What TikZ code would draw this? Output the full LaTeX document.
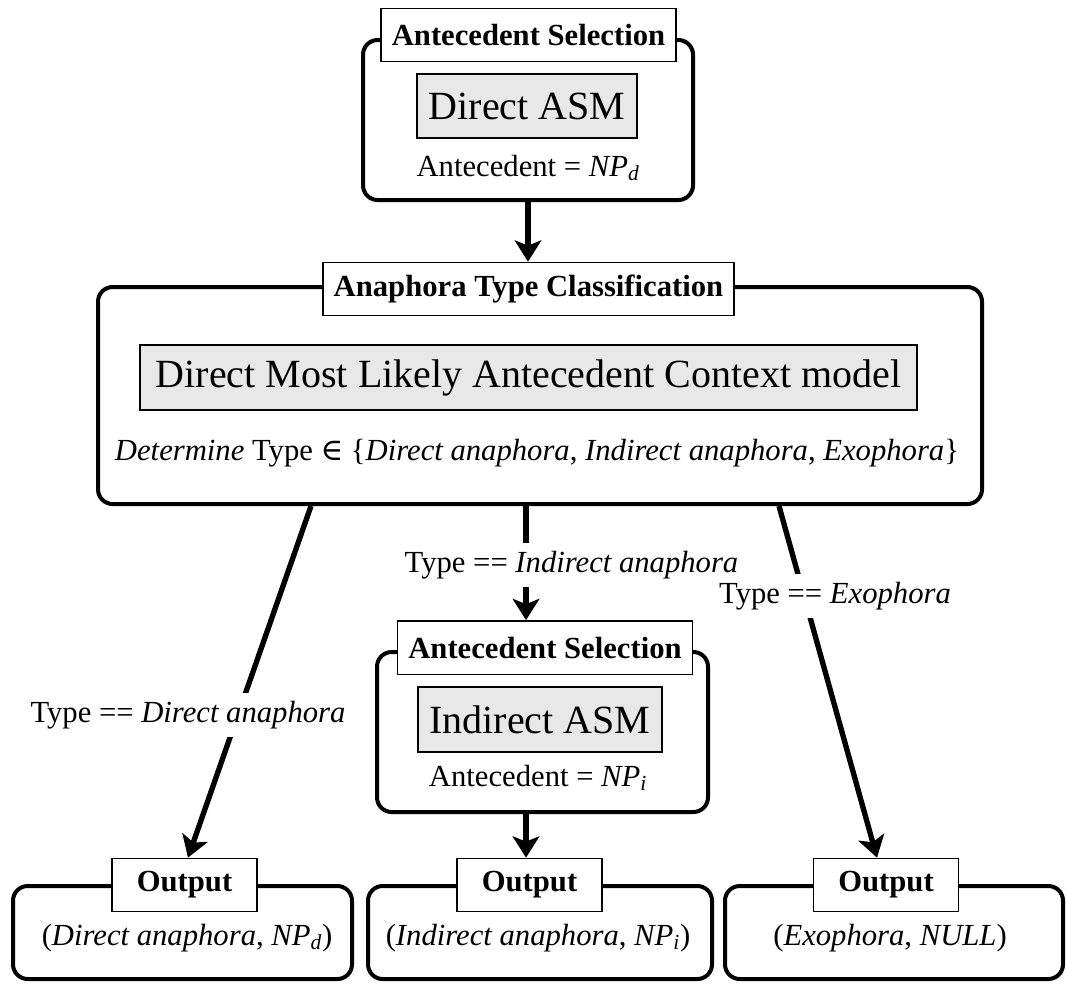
\documentclass[tikz,border=0pt]{standalone}
\usepackage{fontspec}
\setmainfont{Liberation Serif}
\newfontfamily\symbfont{DejaVu Serif}
\usetikzlibrary{arrows.meta}

\begin{document}
\begin{tikzpicture}[x=0.75pt,y=-0.75pt,
  stage/.style={draw,line width=3pt,rounded corners=11pt},
  title/.style={draw,line width=1pt,fill=white,font=\fontsize{23}{27}\selectfont\bfseries,inner xsep=8pt,minimum height=40pt},
  model/.style={draw,line width=1pt,fill=black!9,font=\fontsize{30}{36}\selectfont,minimum height=48.75pt},
  txt/.style={font=\fontsize{23}{27}\selectfont,anchor=base},
  cond/.style={txt,fill=white,inner xsep=3pt,inner ysep=6pt},
  flow/.style={line width=4pt,-{Stealth[length=16pt,width=20pt,inset=4pt]}}]
\useasboundingbox (0,0) rectangle (1066,983);

% stages
\node[stage,minimum width=247.5pt,minimum height=120pt] (selA) at (528,120) {};
\node[stage,minimum width=663pt,minimum height=162.75pt] (cls) at (540,395.5) {};
\node[stage,minimum width=248.25pt,minimum height=120pt] (selB) at (542.5,732) {};
\node[stage,minimum width=254.25pt,minimum height=69.75pt] (out1) at (182.5,932.5) {};
\node[stage,minimum width=258pt,minimum height=69.75pt] (out2) at (540,932.5) {};
\node[stage,minimum width=253.5pt,minimum height=69.75pt] (out3) at (894,932.5) {};

% titles
\node[title] (selAL) at (528.5,35) {Antecedent Selection};
\node[title] (clsL) at (528.5,289) {Anaphora Type Classification};
\node[title] (selBL) at (545,647.5) {Antecedent Selection};
\node[title,minimum width=108.75pt] (out1L) at (184.5,885) {Output};
\node[title,minimum width=108.75pt] (out2L) at (529.5,885) {Output};
\node[title,minimum width=108.75pt] (out3L) at (886,885) {Output};

% models and results
\node[model,minimum width=165pt,minimum height=48pt] (dasm) at (527,106) {Direct ASM};
\node[txt] (dres) at (528,176) {Antecedent = \textit{NP\textsubscript{d}}};
\node[model,minimum width=582.75pt] (mlac) at (528.5,377.5) {Direct Most Likely Antecedent Context model};
\node[txt] (det) at (537,460) {\textit{Determine} Type {\symbfont ∈} \{\textit{Direct anaphora}, \textit{Indirect anaphora}, \textit{Exophora}\}};
\node[model,minimum width=183pt] (iasm) at (540,719.5) {Indirect ASM};
\node[txt] (ires) at (538,786) {Antecedent = \textit{NP\textsubscript{i}}};
\node[txt] (o1) at (187,945) {(\textit{Direct anaphora}, \textit{NP\textsubscript{d}})};
\node[txt] (o2) at (538,945) {(\textit{Indirect anaphora}, \textit{NP\textsubscript{i}})};
\node[txt] (o3) at (890,945) {(\textit{Exophora}, \textit{NULL})};

% arrows
\draw[flow] (selA.south) -- (selA.south |- clsL.north);
\draw[flow] ([xshift=161.25pt]cls.south west) -- ([xshift=2.6pt]out1L.north);
\draw[flow] ([xshift=322.5pt]cls.south west) coordinate (m) -- (m |- selBL.north);
\draw[flow] ([xshift=512.25pt]cls.south west) -- ([xshift=-6.75pt]out3L.north);
\draw[flow] (m |- selB.south) -- (m |- out2L.north);

% conditions
\node[cond] (c1) at (188,722) {Type == \textit{Direct anaphora}};
\node[cond] (c2) at (571.5,572) {Type == \textit{Indirect anaphora}};
\node[cond] (c3) at (835,603) {Type == \textit{Exophora}};
\end{tikzpicture}
\end{document}
